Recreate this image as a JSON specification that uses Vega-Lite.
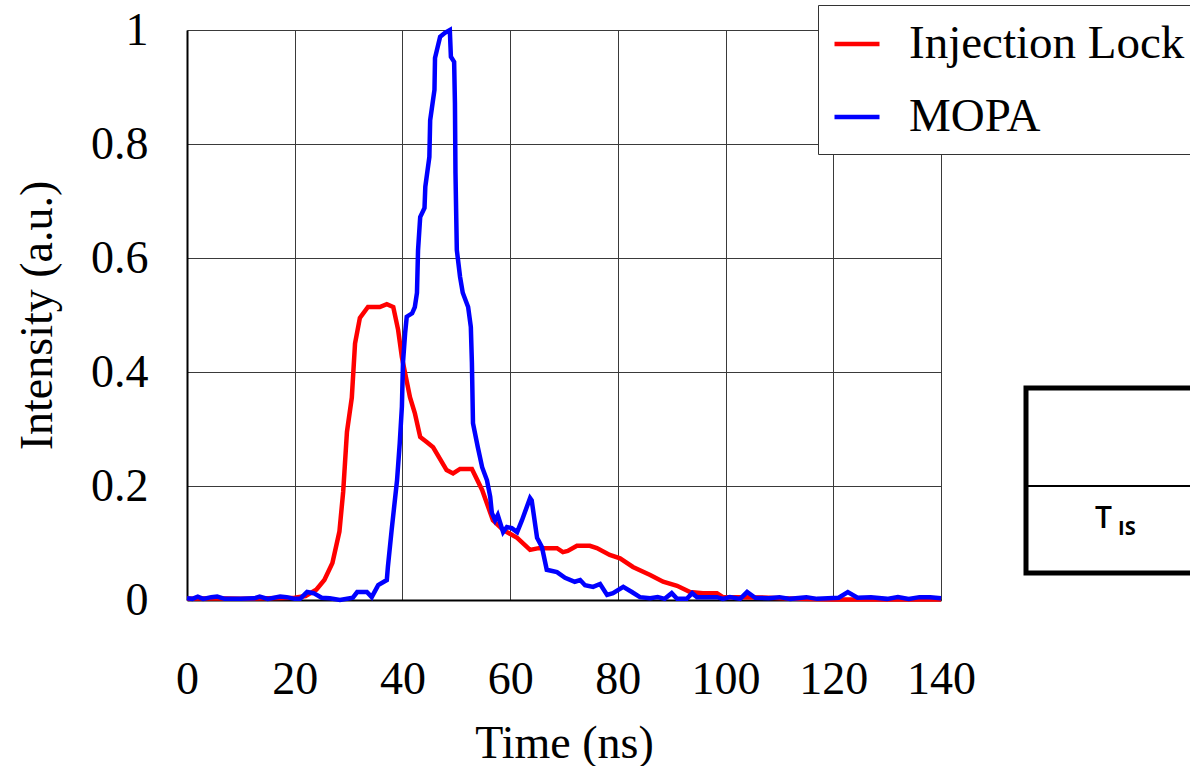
{
  "$schema": "https://vega.github.io/schema/vega-lite/v6.json",
  "width": 754,
  "height": 570,
  "autosize": {"type": "none"},
  "padding": {"left": 187, "top": 30, "right": 249, "bottom": 166},
  "background": "white",
  "config": {
    "view": {"stroke": null},
    "font": "Liberation Serif",
    "axis": {"labelFont": "Liberation Serif", "titleFont": "Liberation Serif", "labelFontSize": 46, "titleFontSize": 46, "labelColor": "black", "titleColor": "black", "titleFontWeight": "normal", "ticks": false, "gridColor": "#3a3a3a", "gridWidth": 1, "gridOpacity": 1, "domainColor": "black", "domainWidth": 2, "labelFlush": false, "labelOverlap": false}
  },
  "datasets": {
    "pulses": [
      {"time": 0, "intensity": 0.002, "series": "Injection Lock"},
      {"time": 5, "intensity": 0.003, "series": "Injection Lock"},
      {"time": 10, "intensity": 0.002, "series": "Injection Lock"},
      {"time": 15, "intensity": 0.003, "series": "Injection Lock"},
      {"time": 20, "intensity": 0.004, "series": "Injection Lock"},
      {"time": 22, "intensity": 0.007, "series": "Injection Lock"},
      {"time": 24, "intensity": 0.018, "series": "Injection Lock"},
      {"time": 25.5, "intensity": 0.035, "series": "Injection Lock"},
      {"time": 27, "intensity": 0.065, "series": "Injection Lock"},
      {"time": 28.3, "intensity": 0.12, "series": "Injection Lock"},
      {"time": 29, "intensity": 0.19, "series": "Injection Lock"},
      {"time": 29.7, "intensity": 0.295, "series": "Injection Lock"},
      {"time": 30.6, "intensity": 0.355, "series": "Injection Lock"},
      {"time": 31.2, "intensity": 0.45, "series": "Injection Lock"},
      {"time": 32.1, "intensity": 0.495, "series": "Injection Lock"},
      {"time": 33.6, "intensity": 0.514, "series": "Injection Lock"},
      {"time": 35.8, "intensity": 0.514, "series": "Injection Lock"},
      {"time": 37.1, "intensity": 0.519, "series": "Injection Lock"},
      {"time": 38.3, "intensity": 0.514, "series": "Injection Lock"},
      {"time": 39.2, "intensity": 0.474, "series": "Injection Lock"},
      {"time": 39.9, "intensity": 0.426, "series": "Injection Lock"},
      {"time": 41.4, "intensity": 0.356, "series": "Injection Lock"},
      {"time": 42.3, "intensity": 0.328, "series": "Injection Lock"},
      {"time": 43.3, "intensity": 0.286, "series": "Injection Lock"},
      {"time": 44.5, "intensity": 0.277, "series": "Injection Lock"},
      {"time": 45.7, "intensity": 0.268, "series": "Injection Lock"},
      {"time": 48.2, "intensity": 0.228, "series": "Injection Lock"},
      {"time": 49.4, "intensity": 0.222, "series": "Injection Lock"},
      {"time": 50.7, "intensity": 0.23, "series": "Injection Lock"},
      {"time": 52.9, "intensity": 0.23, "series": "Injection Lock"},
      {"time": 54.8, "intensity": 0.193, "series": "Injection Lock"},
      {"time": 56.8, "intensity": 0.14, "series": "Injection Lock"},
      {"time": 58.7, "intensity": 0.123, "series": "Injection Lock"},
      {"time": 61.3, "intensity": 0.109, "series": "Injection Lock"},
      {"time": 63.7, "intensity": 0.088, "series": "Injection Lock"},
      {"time": 65.3, "intensity": 0.091, "series": "Injection Lock"},
      {"time": 68.7, "intensity": 0.091, "series": "Injection Lock"},
      {"time": 69.8, "intensity": 0.084, "series": "Injection Lock"},
      {"time": 70.7, "intensity": 0.086, "series": "Injection Lock"},
      {"time": 72.4, "intensity": 0.095, "series": "Injection Lock"},
      {"time": 74.8, "intensity": 0.095, "series": "Injection Lock"},
      {"time": 76.1, "intensity": 0.091, "series": "Injection Lock"},
      {"time": 78.5, "intensity": 0.079, "series": "Injection Lock"},
      {"time": 80.4, "intensity": 0.073, "series": "Injection Lock"},
      {"time": 82.8, "intensity": 0.058, "series": "Injection Lock"},
      {"time": 86, "intensity": 0.044, "series": "Injection Lock"},
      {"time": 88.4, "intensity": 0.032, "series": "Injection Lock"},
      {"time": 91, "intensity": 0.025, "series": "Injection Lock"},
      {"time": 93.4, "intensity": 0.014, "series": "Injection Lock"},
      {"time": 95.8, "intensity": 0.012, "series": "Injection Lock"},
      {"time": 98.4, "intensity": 0.012, "series": "Injection Lock"},
      {"time": 99.5, "intensity": 0.005, "series": "Injection Lock"},
      {"time": 103.2, "intensity": 0.005, "series": "Injection Lock"},
      {"time": 108, "intensity": 0.004, "series": "Injection Lock"},
      {"time": 113, "intensity": 0.002, "series": "Injection Lock"},
      {"time": 120, "intensity": 0.001, "series": "Injection Lock"},
      {"time": 130, "intensity": 0.001, "series": "Injection Lock"},
      {"time": 140, "intensity": 0.001, "series": "Injection Lock"},
      {"time": 0, "intensity": 0.003, "series": "MOPA"},
      {"time": 1, "intensity": 0.002, "series": "MOPA"},
      {"time": 2, "intensity": 0.006, "series": "MOPA"},
      {"time": 3, "intensity": 0.002, "series": "MOPA"},
      {"time": 4.5, "intensity": 0.005, "series": "MOPA"},
      {"time": 5.6, "intensity": 0.006, "series": "MOPA"},
      {"time": 7, "intensity": 0.002, "series": "MOPA"},
      {"time": 10, "intensity": 0.002, "series": "MOPA"},
      {"time": 12.5, "intensity": 0.003, "series": "MOPA"},
      {"time": 13.5, "intensity": 0.006, "series": "MOPA"},
      {"time": 15, "intensity": 0.002, "series": "MOPA"},
      {"time": 17.3, "intensity": 0.006, "series": "MOPA"},
      {"time": 18.5, "intensity": 0.005, "series": "MOPA"},
      {"time": 20, "intensity": 0.002, "series": "MOPA"},
      {"time": 21, "intensity": 0.002, "series": "MOPA"},
      {"time": 22.3, "intensity": 0.014, "series": "MOPA"},
      {"time": 23.5, "intensity": 0.012, "series": "MOPA"},
      {"time": 25, "intensity": 0.004, "series": "MOPA"},
      {"time": 26.5, "intensity": 0.003, "series": "MOPA"},
      {"time": 28.4, "intensity": 0.0, "series": "MOPA"},
      {"time": 30.8, "intensity": 0.004, "series": "MOPA"},
      {"time": 31.6, "intensity": 0.014, "series": "MOPA"},
      {"time": 33.4, "intensity": 0.014, "series": "MOPA"},
      {"time": 34.3, "intensity": 0.005, "series": "MOPA"},
      {"time": 35.5, "intensity": 0.026, "series": "MOPA"},
      {"time": 37.1, "intensity": 0.035, "series": "MOPA"},
      {"time": 37.3, "intensity": 0.058, "series": "MOPA"},
      {"time": 38, "intensity": 0.123, "series": "MOPA"},
      {"time": 39, "intensity": 0.21, "series": "MOPA"},
      {"time": 39.5, "intensity": 0.275, "series": "MOPA"},
      {"time": 39.9, "intensity": 0.339, "series": "MOPA"},
      {"time": 40.1, "intensity": 0.416, "series": "MOPA"},
      {"time": 40.5, "intensity": 0.468, "series": "MOPA"},
      {"time": 40.8, "intensity": 0.497, "series": "MOPA"},
      {"time": 41.8, "intensity": 0.503, "series": "MOPA"},
      {"time": 42.3, "intensity": 0.514, "series": "MOPA"},
      {"time": 42.7, "intensity": 0.539, "series": "MOPA"},
      {"time": 42.9, "intensity": 0.614, "series": "MOPA"},
      {"time": 43.3, "intensity": 0.672, "series": "MOPA"},
      {"time": 44.1, "intensity": 0.688, "series": "MOPA"},
      {"time": 44.25, "intensity": 0.725, "series": "MOPA"},
      {"time": 45.0, "intensity": 0.777, "series": "MOPA"},
      {"time": 45.15, "intensity": 0.842, "series": "MOPA"},
      {"time": 45.95, "intensity": 0.895, "series": "MOPA"},
      {"time": 46.05, "intensity": 0.951, "series": "MOPA"},
      {"time": 47, "intensity": 0.988, "series": "MOPA"},
      {"time": 47.9, "intensity": 0.995, "series": "MOPA"},
      {"time": 48.8, "intensity": 1.0, "series": "MOPA"},
      {"time": 49, "intensity": 0.953, "series": "MOPA"},
      {"time": 49.6, "intensity": 0.944, "series": "MOPA"},
      {"time": 49.75, "intensity": 0.872, "series": "MOPA"},
      {"time": 49.85, "intensity": 0.749, "series": "MOPA"},
      {"time": 50.1, "intensity": 0.614, "series": "MOPA"},
      {"time": 50.7, "intensity": 0.567, "series": "MOPA"},
      {"time": 51.2, "intensity": 0.539, "series": "MOPA"},
      {"time": 52.2, "intensity": 0.514, "series": "MOPA"},
      {"time": 52.7, "intensity": 0.479, "series": "MOPA"},
      {"time": 52.9, "intensity": 0.416, "series": "MOPA"},
      {"time": 53.1, "intensity": 0.31, "series": "MOPA"},
      {"time": 54, "intensity": 0.268, "series": "MOPA"},
      {"time": 54.8, "intensity": 0.233, "series": "MOPA"},
      {"time": 55.7, "intensity": 0.21, "series": "MOPA"},
      {"time": 56.3, "intensity": 0.181, "series": "MOPA"},
      {"time": 56.6, "intensity": 0.153, "series": "MOPA"},
      {"time": 57.2, "intensity": 0.14, "series": "MOPA"},
      {"time": 57.7, "intensity": 0.149, "series": "MOPA"},
      {"time": 58.7, "intensity": 0.119, "series": "MOPA"},
      {"time": 59.4, "intensity": 0.128, "series": "MOPA"},
      {"time": 60.3, "intensity": 0.126, "series": "MOPA"},
      {"time": 61.3, "intensity": 0.119, "series": "MOPA"},
      {"time": 62.2, "intensity": 0.14, "series": "MOPA"},
      {"time": 63.7, "intensity": 0.179, "series": "MOPA"},
      {"time": 64, "intensity": 0.175, "series": "MOPA"},
      {"time": 65, "intensity": 0.109, "series": "MOPA"},
      {"time": 65.9, "intensity": 0.093, "series": "MOPA"},
      {"time": 66.8, "intensity": 0.053, "series": "MOPA"},
      {"time": 68.7, "intensity": 0.049, "series": "MOPA"},
      {"time": 70.2, "intensity": 0.039, "series": "MOPA"},
      {"time": 72, "intensity": 0.032, "series": "MOPA"},
      {"time": 73, "intensity": 0.035, "series": "MOPA"},
      {"time": 73.9, "intensity": 0.026, "series": "MOPA"},
      {"time": 75.4, "intensity": 0.023, "series": "MOPA"},
      {"time": 76.7, "intensity": 0.028, "series": "MOPA"},
      {"time": 78, "intensity": 0.009, "series": "MOPA"},
      {"time": 79.1, "intensity": 0.012, "series": "MOPA"},
      {"time": 81, "intensity": 0.023, "series": "MOPA"},
      {"time": 82.6, "intensity": 0.014, "series": "MOPA"},
      {"time": 84.1, "intensity": 0.005, "series": "MOPA"},
      {"time": 86, "intensity": 0.003, "series": "MOPA"},
      {"time": 87.4, "intensity": 0.005, "series": "MOPA"},
      {"time": 88.7, "intensity": 0.002, "series": "MOPA"},
      {"time": 90, "intensity": 0.012, "series": "MOPA"},
      {"time": 91, "intensity": 0.002, "series": "MOPA"},
      {"time": 92.8, "intensity": 0.002, "series": "MOPA"},
      {"time": 93.8, "intensity": 0.012, "series": "MOPA"},
      {"time": 94.7, "intensity": 0.005, "series": "MOPA"},
      {"time": 98.4, "intensity": 0.005, "series": "MOPA"},
      {"time": 99.5, "intensity": 0.002, "series": "MOPA"},
      {"time": 100.8, "intensity": 0.005, "series": "MOPA"},
      {"time": 102.7, "intensity": 0.002, "series": "MOPA"},
      {"time": 104, "intensity": 0.014, "series": "MOPA"},
      {"time": 105.5, "intensity": 0.004, "series": "MOPA"},
      {"time": 108, "intensity": 0.003, "series": "MOPA"},
      {"time": 110, "intensity": 0.005, "series": "MOPA"},
      {"time": 112, "intensity": 0.002, "series": "MOPA"},
      {"time": 115, "intensity": 0.005, "series": "MOPA"},
      {"time": 117, "intensity": 0.002, "series": "MOPA"},
      {"time": 121, "intensity": 0.004, "series": "MOPA"},
      {"time": 122.7, "intensity": 0.014, "series": "MOPA"},
      {"time": 124.5, "intensity": 0.004, "series": "MOPA"},
      {"time": 127, "intensity": 0.005, "series": "MOPA"},
      {"time": 130, "intensity": 0.002, "series": "MOPA"},
      {"time": 132, "intensity": 0.005, "series": "MOPA"},
      {"time": 134, "intensity": 0.002, "series": "MOPA"},
      {"time": 136, "intensity": 0.005, "series": "MOPA"},
      {"time": 138, "intensity": 0.005, "series": "MOPA"},
      {"time": 140, "intensity": 0.003, "series": "MOPA"}
    ],
    "tableCell": [
      {"symbol": "T", "subscript": "IS"}
    ]
  },
  "layer": [
    {
      "data": {"name": "pulses"},
      "mark": {"type": "line", "strokeWidth": 4.5, "clip": false},
      "encoding": {
        "x": {
          "field": "time", "type": "quantitative",
          "scale": {"domain": [0, 140], "nice": false},
          "axis": {"title": "Time (ns)", "values": [0, 20, 40, 60, 80, 100, 120, 140], "grid": true, "labelPadding": 57, "titleY": 157, "titleBaseline": "alphabetic"}
        },
        "y": {
          "field": "intensity", "type": "quantitative",
          "scale": {"domain": [0, 1], "nice": false},
          "axis": {"title": "Intensity (a.u.)", "values": [0, 0.2, 0.4, 0.6, 0.8, 1], "format": "~g", "grid": true, "labelPadding": 39, "titleX": -136, "titleBaseline": "alphabetic", "titleAngle": -90}
        },
        "color": {
          "field": "series", "type": "nominal",
          "scale": {"domain": ["Injection Lock", "MOPA"], "range": ["#ff0000", "#0000ff"]},
          "legend": {
            "title": null, "orient": "none", "legendX": 631, "legendY": -25,
            "labelFont": "Liberation Serif", "labelFontSize": 47, "labelColor": "black", "labelLimit": 0,
            "labelOffset": 27, "symbolType": "stroke", "symbolSize": 2025, "symbolStrokeWidth": 4.5,
            "rowPadding": 25, "padding": 14, "strokeColor": "#333333", "fillColor": "white"
          }
        }
      }
    },
    {
      "data": {"name": "tableCell"},
      "layer": [
        {
          "mark": {"type": "rect", "fill": "white", "fillOpacity": 0, "stroke": "black", "strokeWidth": 5},
          "encoding": {
            "x": {"datum": 0, "type": "quantitative", "scale": {"domain": [0, 1], "range": [839, 1010]}, "axis": null},
            "x2": {"datum": 1},
            "y": {"datum": 0, "type": "quantitative", "scale": {"domain": [0, 1], "range": [358, 543]}, "axis": null},
            "y2": {"datum": 1}
          }
        },
        {
          "mark": {"type": "rule", "stroke": "black", "strokeWidth": 2},
          "encoding": {
            "x": {"datum": 0, "type": "quantitative"},
            "x2": {"datum": 1},
            "y": {"datum": 0.53, "type": "quantitative"}
          }
        },
        {
          "mark": {"type": "text", "font": "Open Sans", "fontSize": 30, "fontWeight": 600, "align": "center", "baseline": "alphabetic", "color": "black"},
          "encoding": {
            "text": {"field": "symbol"},
            "x": {"datum": 0.453, "type": "quantitative"},
            "y": {"datum": 0.757, "type": "quantitative"}
          }
        },
        {
          "mark": {"type": "text", "font": "Open Sans", "fontSize": 20, "fontWeight": 700, "align": "center", "baseline": "alphabetic", "color": "black"},
          "encoding": {
            "text": {"field": "subscript"},
            "x": {"datum": 0.59, "type": "quantitative"},
            "y": {"datum": 0.795, "type": "quantitative"}
          }
        }
      ]
    }
  ],
  "resolve": {"scale": {"x": "independent", "y": "independent"}}
}
